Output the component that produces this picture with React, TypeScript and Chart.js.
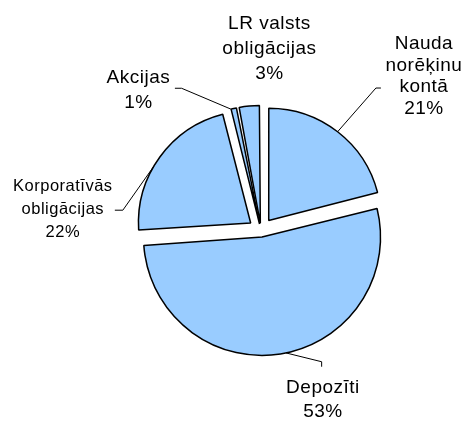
import React, { useEffect, useRef } from "react";
import { Chart, registerables } from "chart.js";

Chart.register(...registerables);

// ---- data ----
const categories = [
  "Nauda norēķinu kontā",
  "Depozīti",
  "Korporatīvās obligācijas",
  "Akcijas",
  "LR valsts obligācijas",
];
const labelLines = [
  ["Nauda", "norēķinu", "kontā"],
  ["Depozīti"],
  ["Korporatīvās", "obligācijas"],
  ["Akcijas"],
  ["LR valsts", "obligācijas"],
];
const shares = [21, 53, 22, 1, 3];
const percentLabels = ["21%", "53%", "22%", "1%", "3%"];

// ---- styles / layout ----
const FILL = "#99CCFF";
const EXPLODE = 13;
const RADIUS = 112;
const FONT_FAMILY = "'Liberation Sans', Arial, sans-serif";

type LabelLayout = {
  frac: number; // where on the slice's arc the leader starts
  leader: [number, number][]; // offsets from arc anchor
  dx: number; // label centre offset from anchor
  dy: number; // first baseline offset from anchor
  size: number;
  lh: number;
};

const layout: LabelLayout[] = [
  { frac: 0.5, leader: [[38.3, -43.7], [43.3, -43.7]], dx: 86.3, dy: -82.7, size: 19, lh: 21.5 },
  { frac: 0.485, leader: [[35.6, 8.8], [35.6, 13.8]], dx: 36.9, dy: 40.1, size: 19, lh: 24 },
  { frac: 0.43, leader: [[-31.1, 44.1], [-39.1, 44.1]], dx: -91.1, dy: 25.1, size: 16.5, lh: 23 },
  { frac: 0.1, leader: [[-49.4, -20.9], [-56.1, -20.9]], dx: -92.6, dy: -26.2, size: 19, lh: 25 },
  { frac: 0.5, leader: [], dx: 20.2, dy: -77.1, size: 19, lh: 25 },
];

const labelPlugin = {
  id: "pieLabels",
  afterDatasetsDraw(chart: any) {
    const meta = chart.getDatasetMeta(0);
    const ctx: CanvasRenderingContext2D = chart.ctx;
    ctx.save();
    meta.data.forEach((arc: any, i: number) => {
      const p = arc.getProps(["x", "y", "startAngle", "endAngle", "outerRadius"], true);
      const mid = (p.startAngle + p.endAngle) / 2;
      const cx = p.x + Math.cos(mid) * EXPLODE;
      const cy = p.y + Math.sin(mid) * EXPLODE;
      const L = layout[i];
      const a = p.startAngle + L.frac * (p.endAngle - p.startAngle);
      const ax = cx + Math.cos(a) * p.outerRadius;
      const ay = cy + Math.sin(a) * p.outerRadius;
      if (L.leader.length) {
        ctx.beginPath();
        ctx.strokeStyle = "#000";
        ctx.lineWidth = 1;
        ctx.moveTo(ax, ay);
        L.leader.forEach(([dx, dy]) => ctx.lineTo(ax + dx, ay + dy));
        ctx.stroke();
      }
      const lines = [...labelLines[i], percentLabels[i]];
      ctx.fillStyle = "#000";
      ctx.font = `${L.size}px ${FONT_FAMILY}`;
      (ctx as any).letterSpacing = "0.5px";
      ctx.textAlign = "center";
      ctx.textBaseline = "alphabetic";
      lines.forEach((t, k) => {
        ctx.fillText(t, ax + L.dx, ay + L.dy + k * L.lh);
      });
    });
    ctx.restore();
  },
};

export default function App() {
  const ref = useRef<HTMLCanvasElement | null>(null);
  useEffect(() => {
    if (!ref.current) return;
    const chart = new Chart(ref.current, {
      type: "pie",
      data: {
        labels: categories,
        datasets: [
          {
            data: shares,
            backgroundColor: FILL,
            borderColor: "#000",
            borderWidth: 1.5,
            radius: RADIUS,
            offset: (c: any) => {
              const data = c.dataset.data as number[];
              const total = data.reduce((s, v) => s + v, 0);
              const circ = (2 * Math.PI * data[c.dataIndex]) / total;
              const fix = 1 - Math.sin(Math.min(Math.PI, circ));
              return (EXPLODE * 4) / (1 + fix);
            },
          } as any,
        ],
      },
      options: {
        responsive: false,
        animation: false,
        events: [],
        layout: { padding: { left: 100, right: 42, top: 60, bottom: 20 } },
        plugins: {
          legend: { display: false },
          tooltip: { enabled: false },
        },
      },
      plugins: [labelPlugin],
    });
    return () => chart.destroy();
  }, []);
  return (
    <div style={{ position: "absolute", left: 0, top: 0, width: 464, height: 421, background: "#fff" }}>
      <canvas ref={ref} width={464} height={421} style={{ display: "block" }} />
    </div>
  );
}
